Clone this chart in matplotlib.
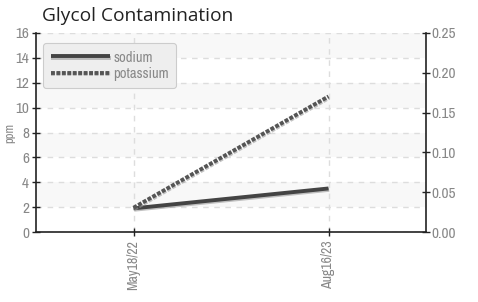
import matplotlib
matplotlib.use("Agg")
import matplotlib.pyplot as plt
import matplotlib.patheffects as pe
from matplotlib import font_manager as fm

categories = ["May18/22", "Aug16/23"]
sodium = [1.9, 3.5]
potassium = [1.95, 10.9]
left_ticks = [0, 2, 4, 6, 8, 10, 12, 14, 16]
right_ticks = [0.00, 0.05, 0.10, 0.15, 0.20, 0.25]

# pick a condensed / narrow font if one is installed
cand = None
for f in fm.fontManager.ttflist:
    n = f.name.lower()
    fn = f.fname.lower()
    if ("narrow" in n or "condensed" in n or "condensed" in fn or str(f.stretch) in ("condensed", "semi-condensed", "75", "87")) \
            and f.weight in (400, "normal", "regular") and f.style == "normal":
        cand = f.fname
        if "roboto" in n or "narrow" in n:
            break
if cand:
    def FP(size):
        return fm.FontProperties(fname=cand, size=size)
else:
    def FP(size):
        return fm.FontProperties(family="Roboto", size=size)

fig = plt.figure(figsize=(4.78, 3.02), dpi=100)
ax = fig.add_axes([36/478, 1 - 232/302, 390/478, 199/302])
x = list(range(len(categories)))

ax.set_xlim(-0.5, len(categories) - 0.5)
ax.set_ylim(0, 16)

for lo in [2, 6, 10, 14]:
    ax.axhspan(lo, lo + 2, color="#f8f8f8", zorder=0, lw=0)

ax.set_yticks(left_ticks)
ax.set_yticklabels([str(v) for v in left_ticks], fontproperties=FP(11))
ax.set_xticks(x)
ax.set_xticklabels(categories, rotation=90, fontproperties=FP(10))
ax.tick_params(axis="y", colors="#222222", labelcolor="#888888", direction="inout", length=6, width=1, pad=2)
ax.tick_params(axis="x", colors="#222222", labelcolor="#888888", direction="inout", length=6, width=1, pad=3)
ax.grid(True, color="#dddddd", linestyle=(0, (4, 4)), linewidth=1)
ax.set_axisbelow(True)

for s in ["top", "right"]:
    ax.spines[s].set_visible(False)
for s in ["left", "bottom"]:
    ax.spines[s].set_color("#222222")
    ax.spines[s].set_linewidth(1.2)

ax.set_ylabel("ppm", fontproperties=FP(9), color="#888888", labelpad=0)

shadow = [pe.SimpleLineShadow(offset=(0.5, -1), shadow_color="#999999", alpha=0.6), pe.Normal()]
ax.plot(x, sodium, color="#444444", lw=2.8, label="sodium", solid_capstyle="butt", path_effects=shadow, zorder=3)
ax.plot(x, potassium, color="#555555", lw=2.8, linestyle=(0, (1, 0.4)), label="potassium", path_effects=shadow, zorder=3)

ax2 = ax.twinx()
ax2.set_ylim(0, 0.25)
ax2.set_yticks(right_ticks)
ax2.set_yticklabels([f"{v:.2f}" for v in right_ticks], fontproperties=FP(11))
ax2.tick_params(axis="y", colors="#222222", labelcolor="#888888", direction="inout", length=6, width=1, pad=1)
for s in ["top", "left", "bottom"]:
    ax2.spines[s].set_visible(False)
ax2.spines["right"].set_color("#222222")
ax2.spines["right"].set_linewidth(1.2)

leg = ax.legend(loc="upper left", bbox_to_anchor=(0.0, 0.985), prop=FP(10.5),
                handlelength=4.1, handletextpad=0.2, borderpad=0.5, labelspacing=0.15,
                fancybox=True, framealpha=1, facecolor="#eeeeee", edgecolor="#cccccc", labelcolor="#888888")
leg.get_frame().set_linewidth(0.8)

fig.text(42/478, 1 - 16/302, "Glycol Contamination", fontsize=13.8, color="#222222", va="center", ha="left", fontfamily="Open Sans")

fig.savefig("out.png", dpi=100)
